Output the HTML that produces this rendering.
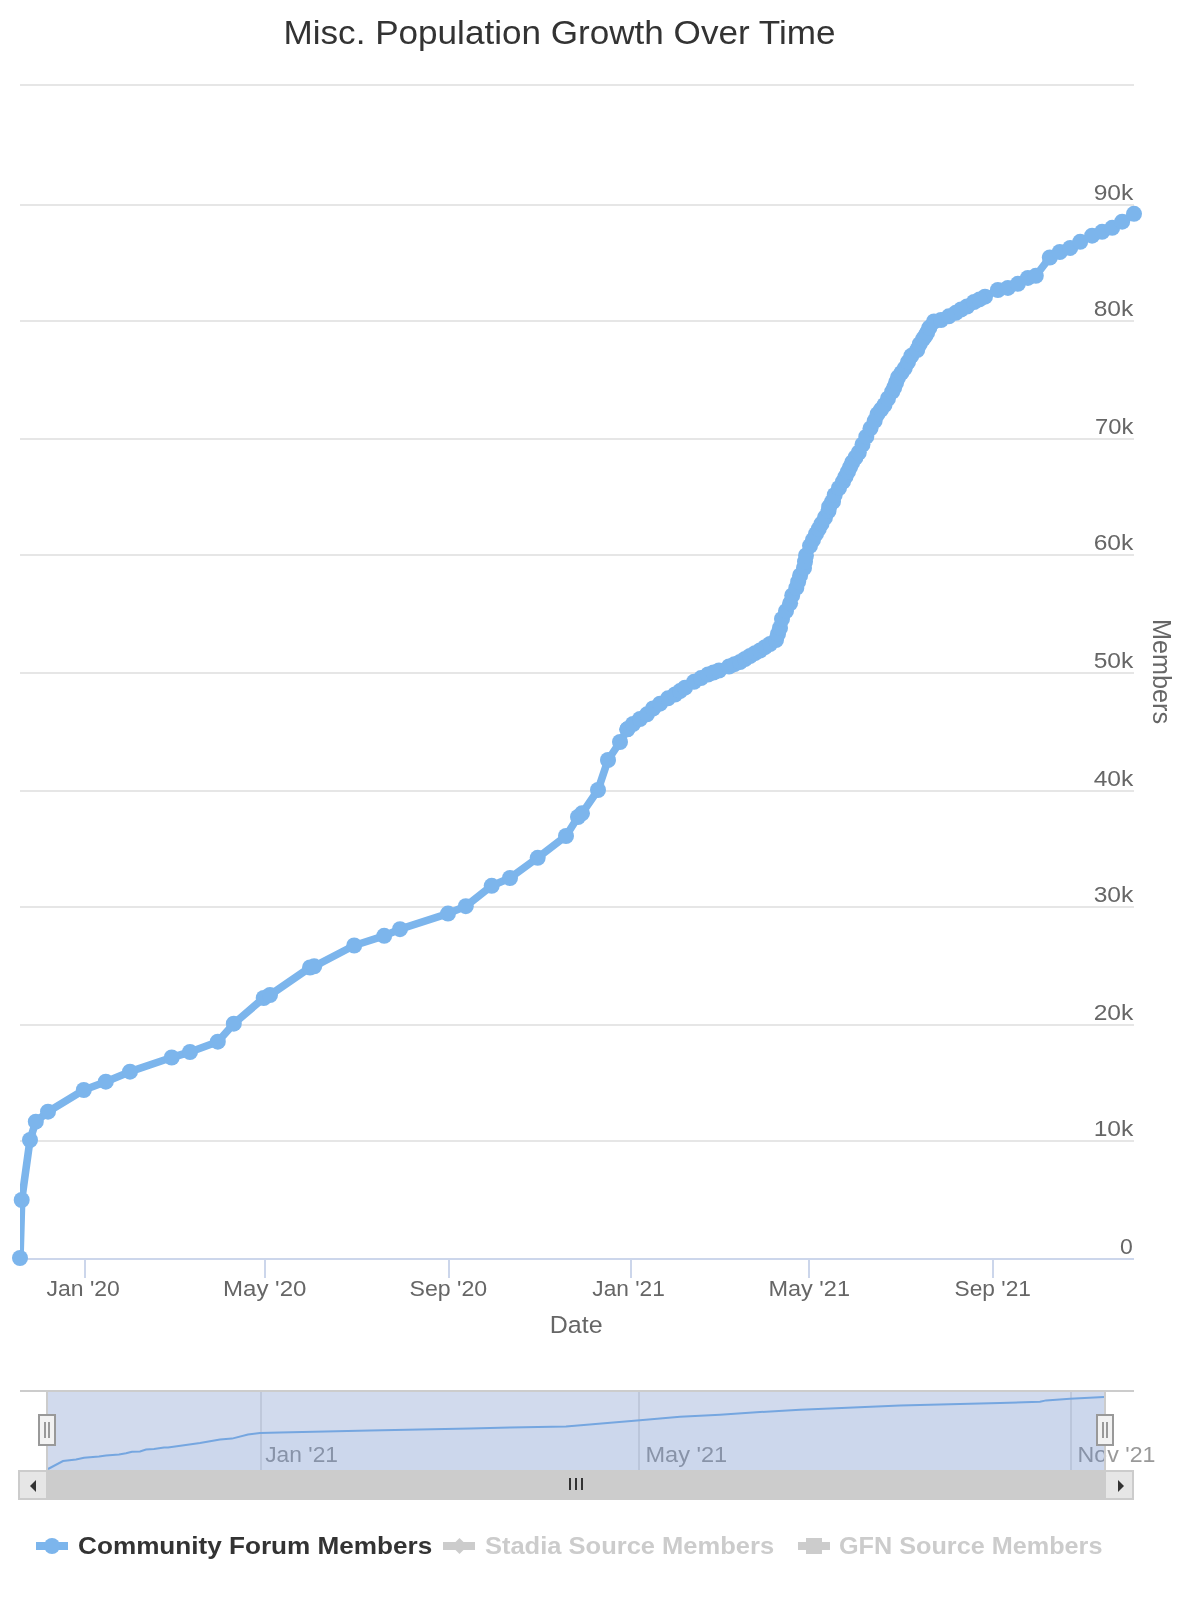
<!DOCTYPE html><html><head><meta charset="utf-8"><title>Misc. Population Growth Over Time</title><style>
html,body{margin:0;padding:0;background:#fff;width:1200px;height:1600px;overflow:hidden}
svg{display:block;font-family:"Liberation Sans", sans-serif}svg{will-change:transform}
</style></head><body>
<svg width="1200" height="1600" viewBox="0 0 1200 1600">
<rect x="0" y="0" width="1200" height="1600" fill="#ffffff"/>
<text x="283.56" y="44.00" font-size="33.5" font-weight="normal" fill="#333333" textLength="551.91" lengthAdjust="spacingAndGlyphs">Misc. Population Growth Over Time</text>
<rect x="20" y="84" width="1114" height="2" fill="#e6e6e6"/>
<rect x="20" y="204" width="1114" height="2" fill="#e6e6e6"/>
<rect x="20" y="320" width="1114" height="2" fill="#e6e6e6"/>
<rect x="20" y="438" width="1114" height="2" fill="#e6e6e6"/>
<rect x="20" y="554" width="1114" height="2" fill="#e6e6e6"/>
<rect x="20" y="672" width="1114" height="2" fill="#e6e6e6"/>
<rect x="20" y="790" width="1114" height="2" fill="#e6e6e6"/>
<rect x="20" y="906" width="1114" height="2" fill="#e6e6e6"/>
<rect x="20" y="1024" width="1114" height="2" fill="#e6e6e6"/>
<rect x="20" y="1140" width="1114" height="2" fill="#e6e6e6"/>
<rect x="20" y="1258" width="1114" height="2" fill="#ccd6eb"/>
<rect x="84" y="1258" width="2" height="20" fill="#ccd6eb"/>
<rect x="264" y="1258" width="2" height="20" fill="#ccd6eb"/>
<rect x="448" y="1258" width="2" height="20" fill="#ccd6eb"/>
<rect x="630" y="1258" width="2" height="20" fill="#ccd6eb"/>
<rect x="808" y="1258" width="2" height="20" fill="#ccd6eb"/>
<rect x="992" y="1258" width="2" height="20" fill="#ccd6eb"/>
<text x="1093.66" y="200.00" font-size="22.5" font-weight="normal" fill="#666666" textLength="39.65" lengthAdjust="spacingAndGlyphs">90k</text>
<text x="1093.71" y="316.00" font-size="22.5" font-weight="normal" fill="#666666" textLength="39.60" lengthAdjust="spacingAndGlyphs">80k</text>
<text x="1094.94" y="434.00" font-size="22.5" font-weight="normal" fill="#666666" textLength="38.35" lengthAdjust="spacingAndGlyphs">70k</text>
<text x="1093.66" y="550.00" font-size="22.5" font-weight="normal" fill="#666666" textLength="39.65" lengthAdjust="spacingAndGlyphs">60k</text>
<text x="1093.66" y="668.00" font-size="22.5" font-weight="normal" fill="#666666" textLength="39.65" lengthAdjust="spacingAndGlyphs">50k</text>
<text x="1093.66" y="786.00" font-size="22.5" font-weight="normal" fill="#666666" textLength="39.65" lengthAdjust="spacingAndGlyphs">40k</text>
<text x="1093.66" y="902.00" font-size="22.5" font-weight="normal" fill="#666666" textLength="39.65" lengthAdjust="spacingAndGlyphs">30k</text>
<text x="1093.66" y="1020.00" font-size="22.5" font-weight="normal" fill="#666666" textLength="39.65" lengthAdjust="spacingAndGlyphs">20k</text>
<text x="1093.66" y="1136.00" font-size="22.5" font-weight="normal" fill="#666666" textLength="39.65" lengthAdjust="spacingAndGlyphs">10k</text>
<text x="1119.98" y="1254.00" font-size="22.5" font-weight="normal" fill="#666666" textLength="12.80" lengthAdjust="spacingAndGlyphs">0</text>
<text x="46.48" y="1296.00" font-size="22.5" font-weight="normal" fill="#666666" textLength="73.40" lengthAdjust="spacingAndGlyphs">Jan &#39;20</text>
<text x="222.96" y="1296.00" font-size="22.5" font-weight="normal" fill="#666666" textLength="83.51" lengthAdjust="spacingAndGlyphs">May &#39;20</text>
<text x="409.47" y="1296.00" font-size="22.5" font-weight="normal" fill="#666666" textLength="77.76" lengthAdjust="spacingAndGlyphs">Sep &#39;20</text>
<text x="592.29" y="1296.00" font-size="22.5" font-weight="normal" fill="#666666" textLength="72.48" lengthAdjust="spacingAndGlyphs">Jan &#39;21</text>
<text x="768.41" y="1296.00" font-size="22.5" font-weight="normal" fill="#666666" textLength="81.63" lengthAdjust="spacingAndGlyphs">May &#39;21</text>
<text x="954.59" y="1296.00" font-size="22.5" font-weight="normal" fill="#666666" textLength="76.32" lengthAdjust="spacingAndGlyphs">Sep &#39;21</text>
<text x="549.76" y="1333.00" font-size="24.5" font-weight="normal" fill="#666666" textLength="52.82" lengthAdjust="spacingAndGlyphs">Date</text>
<text transform="translate(1153.3,671.5) rotate(90)" font-size="26" fill="#666666" text-anchor="middle" textLength="105" lengthAdjust="spacingAndGlyphs">Members</text>
<defs><clipPath id="pc"><rect x="20" y="60" width="1114" height="1200"/></clipPath></defs>
<path d="M20.0,1258.0 L21.7,1200.0 L30.0,1140.0 L35.8,1121.7 L48.0,1111.7 L83.8,1090.0 L105.8,1081.7 L130.0,1071.7 L171.7,1057.5 L190.0,1052.0 L217.8,1041.7 L233.8,1023.7 L263.7,998.0 L270.0,995.0 L310.0,967.5 L314.2,966.3 L354.2,945.5 L384.2,935.8 L400.0,929.2 L448.0,913.6 L465.8,906.2 L491.7,885.8 L510.0,878.0 L537.7,857.8 L566.0,836.0 L578.0,817.0 L582.0,813.3 L598.0,790.0 L608.0,760.0 L620.0,742.0 L627.3,729.3 L633.0,724.0 L640.0,719.0 L647.0,714.3 L653.0,708.5 L660.0,703.7 L668.0,698.3 L675.0,694.5 L685.0,687.7 L694.0,681.8 L708.0,674.5 L719.0,670.5 L729.0,666.5 L740.0,662.0 L750.0,656.0 L760.0,650.5 L770.0,644.0 L776.0,640.0 L780.0,628.0 L782.0,619.0 L790.1,603.3 L792.2,595.4 L796.3,587.9 L800.1,575.4 L804.0,568.0 L806.0,555.4 L810.0,545.8 L816.0,533.9 L821.6,523.6 L825.0,517.5 L828.5,511.0 L832.0,502.0 L829.2,506.7 L833.0,501.7 L834.7,495.0 L839.0,488.0 L843.0,481.7 L848.0,471.7 L852.2,462.5 L858.8,452.5 L862.5,444.5 L866.3,436.7 L870.5,428.3 L874.7,420.8 L877.5,414.2 L884.5,405.0 L888.0,398.5 L892.2,391.7 L894.2,387.5 L898.0,377.5 L904.7,368.3 L911.3,355.8 L917.2,350.0 L919.7,344.2 L923.0,339.2 L925.3,335.8 L927.2,332.5 L929.4,327.6 L934.0,321.5 L941.0,320.0 L948.8,316.3 L955.8,312.8 L961.0,309.5 L967.0,306.5 L974.0,302.0 L985.0,296.7 L997.9,290.0 L1007.9,287.9 L1017.9,283.8 L1027.9,277.9 L1035.8,275.8 L1049.8,257.5 L1059.8,252.0 L1070.2,247.9 L1080.2,241.8 L1092.1,235.7 L1102.1,231.8 L1112.2,227.8 L1122.2,221.7 L1134.0,213.8" fill="none" stroke="#7cb5ec" stroke-width="7.6" stroke-linejoin="round" stroke-linecap="round" clip-path="url(#pc)"/>
<g fill="#7cb5ec">
<circle cx="20.0" cy="1258.0" r="8"/>
<circle cx="21.7" cy="1200.0" r="8"/>
<circle cx="30.0" cy="1140.0" r="8"/>
<circle cx="35.8" cy="1121.7" r="8"/>
<circle cx="48.0" cy="1111.7" r="8"/>
<circle cx="83.8" cy="1090.0" r="8"/>
<circle cx="105.8" cy="1081.7" r="8"/>
<circle cx="130.0" cy="1071.7" r="8"/>
<circle cx="171.7" cy="1057.5" r="8"/>
<circle cx="190.0" cy="1052.0" r="8"/>
<circle cx="217.8" cy="1041.7" r="8"/>
<circle cx="233.8" cy="1023.7" r="8"/>
<circle cx="263.7" cy="998.0" r="8"/>
<circle cx="270.0" cy="995.0" r="8"/>
<circle cx="310.0" cy="967.5" r="8"/>
<circle cx="314.2" cy="966.3" r="8"/>
<circle cx="354.2" cy="945.5" r="8"/>
<circle cx="384.2" cy="935.8" r="8"/>
<circle cx="400.0" cy="929.2" r="8"/>
<circle cx="448.0" cy="913.6" r="8"/>
<circle cx="465.8" cy="906.2" r="8"/>
<circle cx="491.7" cy="885.8" r="8"/>
<circle cx="510.0" cy="878.0" r="8"/>
<circle cx="537.7" cy="857.8" r="8"/>
<circle cx="566.0" cy="836.0" r="8"/>
<circle cx="578.0" cy="817.0" r="8"/>
<circle cx="582.0" cy="813.3" r="8"/>
<circle cx="598.0" cy="790.0" r="8"/>
<circle cx="608.0" cy="760.0" r="8"/>
<circle cx="620.0" cy="742.0" r="8"/>
<circle cx="627.3" cy="729.3" r="8"/>
<circle cx="985.0" cy="296.7" r="8"/>
<circle cx="997.9" cy="290.0" r="8"/>
<circle cx="1007.9" cy="287.9" r="8"/>
<circle cx="1017.9" cy="283.8" r="8"/>
<circle cx="1027.9" cy="277.9" r="8"/>
<circle cx="1035.8" cy="275.8" r="8"/>
<circle cx="1049.8" cy="257.5" r="8"/>
<circle cx="1059.8" cy="252.0" r="8"/>
<circle cx="1070.2" cy="247.9" r="8"/>
<circle cx="1080.2" cy="241.8" r="8"/>
<circle cx="1092.1" cy="235.7" r="8"/>
<circle cx="1102.1" cy="231.8" r="8"/>
<circle cx="1112.2" cy="227.8" r="8"/>
<circle cx="1122.2" cy="221.7" r="8"/>
<circle cx="1134.0" cy="213.8" r="8"/>
<circle cx="627.3" cy="729.3" r="8"/>
<circle cx="633.0" cy="724.0" r="8"/>
<circle cx="640.0" cy="719.0" r="8"/>
<circle cx="647.0" cy="714.3" r="8"/>
<circle cx="653.0" cy="708.5" r="8"/>
<circle cx="660.0" cy="703.7" r="8"/>
<circle cx="668.0" cy="698.3" r="8"/>
<circle cx="675.0" cy="694.5" r="8"/>
<circle cx="680.0" cy="691.1" r="8"/>
<circle cx="685.0" cy="687.7" r="8"/>
<circle cx="694.0" cy="681.8" r="8"/>
<circle cx="701.0" cy="678.1" r="8"/>
<circle cx="708.0" cy="674.5" r="8"/>
<circle cx="713.5" cy="672.5" r="8"/>
<circle cx="719.0" cy="670.5" r="8"/>
<circle cx="729.0" cy="666.5" r="8"/>
<circle cx="734.5" cy="664.2" r="8"/>
<circle cx="740.0" cy="662.0" r="8"/>
<circle cx="745.0" cy="659.0" r="8"/>
<circle cx="750.0" cy="656.0" r="8"/>
<circle cx="755.0" cy="653.2" r="8"/>
<circle cx="760.0" cy="650.5" r="8"/>
<circle cx="765.0" cy="647.2" r="8"/>
<circle cx="770.0" cy="644.0" r="8"/>
<circle cx="776.0" cy="640.0" r="8"/>
<circle cx="778.0" cy="634.0" r="8"/>
<circle cx="780.0" cy="628.0" r="8"/>
<circle cx="782.0" cy="619.0" r="8"/>
<circle cx="786.0" cy="611.1" r="8"/>
<circle cx="790.1" cy="603.3" r="8"/>
<circle cx="792.2" cy="595.4" r="8"/>
<circle cx="796.3" cy="587.9" r="8"/>
<circle cx="798.2" cy="581.6" r="8"/>
<circle cx="800.1" cy="575.4" r="8"/>
<circle cx="804.0" cy="568.0" r="8"/>
<circle cx="805.0" cy="561.7" r="8"/>
<circle cx="806.0" cy="555.4" r="8"/>
<circle cx="810.0" cy="545.8" r="8"/>
<circle cx="813.0" cy="539.8" r="8"/>
<circle cx="816.0" cy="533.9" r="8"/>
<circle cx="818.8" cy="528.8" r="8"/>
<circle cx="821.6" cy="523.6" r="8"/>
<circle cx="825.0" cy="517.5" r="8"/>
<circle cx="828.5" cy="511.0" r="8"/>
<circle cx="832.0" cy="502.0" r="8"/>
<circle cx="829.2" cy="506.7" r="8"/>
<circle cx="833.0" cy="501.7" r="8"/>
<circle cx="834.7" cy="495.0" r="8"/>
<circle cx="839.0" cy="488.0" r="8"/>
<circle cx="843.0" cy="481.7" r="8"/>
<circle cx="845.5" cy="476.7" r="8"/>
<circle cx="848.0" cy="471.7" r="8"/>
<circle cx="850.1" cy="467.1" r="8"/>
<circle cx="852.2" cy="462.5" r="8"/>
<circle cx="855.5" cy="457.5" r="8"/>
<circle cx="858.8" cy="452.5" r="8"/>
<circle cx="862.5" cy="444.5" r="8"/>
<circle cx="866.3" cy="436.7" r="8"/>
<circle cx="870.5" cy="428.3" r="8"/>
<circle cx="874.7" cy="420.8" r="8"/>
<circle cx="877.5" cy="414.2" r="8"/>
<circle cx="881.0" cy="409.6" r="8"/>
<circle cx="884.5" cy="405.0" r="8"/>
<circle cx="888.0" cy="398.5" r="8"/>
<circle cx="892.2" cy="391.7" r="8"/>
<circle cx="894.2" cy="387.5" r="8"/>
<circle cx="896.1" cy="382.5" r="8"/>
<circle cx="898.0" cy="377.5" r="8"/>
<circle cx="901.4" cy="372.9" r="8"/>
<circle cx="904.7" cy="368.3" r="8"/>
<circle cx="908.0" cy="362.1" r="8"/>
<circle cx="911.3" cy="355.8" r="8"/>
<circle cx="917.2" cy="350.0" r="8"/>
<circle cx="919.7" cy="344.2" r="8"/>
<circle cx="923.0" cy="339.2" r="8"/>
<circle cx="925.3" cy="335.8" r="8"/>
<circle cx="927.2" cy="332.5" r="8"/>
<circle cx="929.4" cy="327.6" r="8"/>
<circle cx="934.0" cy="321.5" r="8"/>
<circle cx="941.0" cy="320.0" r="8"/>
<circle cx="948.8" cy="316.3" r="8"/>
<circle cx="955.8" cy="312.8" r="8"/>
<circle cx="961.0" cy="309.5" r="8"/>
<circle cx="967.0" cy="306.5" r="8"/>
<circle cx="974.0" cy="302.0" r="8"/>
<circle cx="979.5" cy="299.4" r="8"/>
</g>
<rect x="20" y="1390" width="1114" height="2" fill="#cccccc"/>
<rect x="260" y="1392" width="2" height="78" fill="#e6e6e6"/>
<rect x="638" y="1392" width="2" height="78" fill="#e6e6e6"/>
<rect x="1070" y="1392" width="2" height="78" fill="#e6e6e6"/>
<text x="265.24" y="1462.00" font-size="22.5" font-weight="normal" fill="#999999" textLength="72.73" lengthAdjust="spacingAndGlyphs">Jan &#39;21</text>
<text x="645.40" y="1462.00" font-size="22.5" font-weight="normal" fill="#999999" textLength="81.84" lengthAdjust="spacingAndGlyphs">May &#39;21</text>
<text x="1077.64" y="1462.00" font-size="22.5" font-weight="normal" fill="#999999" textLength="77.87" lengthAdjust="spacingAndGlyphs">Nov &#39;21</text>
<path d="M48.0,1469.0 L63.0,1461.0 L76.0,1459.5 L84.0,1457.8 L99.0,1456.5 L106.0,1455.5 L119.0,1454.5 L126.0,1453.2 L132.0,1451.8 L140.0,1451.5 L146.0,1449.5 L154.0,1449.0 L164.0,1447.5 L168.0,1447.4 L200.0,1443.0 L220.0,1439.4 L232.0,1438.6 L248.0,1434.6 L260.0,1433.0 L280.0,1432.6 L370.0,1430.6 L470.0,1428.6 L510.0,1427.4 L566.0,1426.4 L640.0,1420.3 L680.0,1416.7 L720.0,1414.7 L760.0,1412.0 L800.0,1409.7 L830.0,1408.4 L900.0,1405.4 L960.0,1404.0 L1000.0,1403.0 L1040.0,1401.8 L1046.0,1400.4 L1070.0,1398.8 L1104.0,1397.0 L1104,1470 L48,1470 Z" fill="rgba(124,181,236,0.05)" stroke="none"/>
<path d="M48.0,1469.0 L63.0,1461.0 L76.0,1459.5 L84.0,1457.8 L99.0,1456.5 L106.0,1455.5 L119.0,1454.5 L126.0,1453.2 L132.0,1451.8 L140.0,1451.5 L146.0,1449.5 L154.0,1449.0 L164.0,1447.5 L168.0,1447.4 L200.0,1443.0 L220.0,1439.4 L232.0,1438.6 L248.0,1434.6 L260.0,1433.0 L280.0,1432.6 L370.0,1430.6 L470.0,1428.6 L510.0,1427.4 L566.0,1426.4 L640.0,1420.3 L680.0,1416.7 L720.0,1414.7 L760.0,1412.0 L800.0,1409.7 L830.0,1408.4 L900.0,1405.4 L960.0,1404.0 L1000.0,1403.0 L1040.0,1401.8 L1046.0,1400.4 L1070.0,1398.8 L1104.0,1397.0" fill="none" stroke="#7cb5ec" stroke-width="2"/>
<rect x="48" y="1392" width="1056" height="78" fill="rgba(102,133,194,0.3)"/>
<rect x="46" y="1390" width="2" height="80" fill="#cccccc"/>
<rect x="1104" y="1390" width="2" height="80" fill="#cccccc"/>
<rect x="39" y="1415" width="16" height="30" fill="#f2f2f2" stroke="#999999" stroke-width="2"/>
<rect x="44" y="1422" width="2" height="16" fill="#999999"/>
<rect x="48" y="1422" width="2" height="16" fill="#999999"/>
<rect x="1097" y="1415" width="16" height="30" fill="#f2f2f2" stroke="#999999" stroke-width="2"/>
<rect x="1102" y="1422" width="2" height="16" fill="#999999"/>
<rect x="1106" y="1422" width="2" height="16" fill="#999999"/>
<rect x="19" y="1471" width="1114" height="28" fill="#f2f2f2" stroke="#f2f2f2" stroke-width="2"/>
<rect x="47" y="1470" width="1058" height="30" fill="#cccccc"/>
<rect x="569" y="1478" width="2" height="12" fill="#333333"/>
<rect x="575" y="1478" width="2" height="12" fill="#333333"/>
<rect x="581" y="1478" width="2" height="12" fill="#333333"/>
<rect x="19" y="1471" width="28" height="28" fill="#e6e6e6" stroke="#cccccc" stroke-width="2"/>
<path d="M36,1480 L30,1486 L36,1492 Z" fill="#333333"/>
<rect x="1105" y="1471" width="28" height="28" fill="#e6e6e6" stroke="#cccccc" stroke-width="2"/>
<path d="M1118,1480 L1124,1486 L1118,1492 Z" fill="#333333"/>
<rect x="36" y="1542" width="32" height="8" fill="#7cb5ec"/><circle cx="52" cy="1546" r="8" fill="#7cb5ec"/>
<text x="78.08" y="1554.00" font-size="23.4" font-weight="bold" fill="#333333" textLength="354.17" lengthAdjust="spacingAndGlyphs">Community Forum Members</text>
<rect x="443" y="1542" width="32" height="8" fill="#cccccc"/><path d="M459.5,1538 L467.5,1546 L459.5,1554 L451.5,1546 Z" fill="#cccccc"/>
<text x="484.91" y="1554.00" font-size="23.4" font-weight="bold" fill="#cccccc" textLength="289.20" lengthAdjust="spacingAndGlyphs">Stadia Source Members</text>
<rect x="798" y="1542" width="32" height="8" fill="#cccccc"/><rect x="806" y="1538" width="16" height="16" fill="#cccccc"/>
<text x="838.92" y="1554.00" font-size="23.4" font-weight="bold" fill="#cccccc" textLength="263.56" lengthAdjust="spacingAndGlyphs">GFN Source Members</text>
</svg></body></html>
